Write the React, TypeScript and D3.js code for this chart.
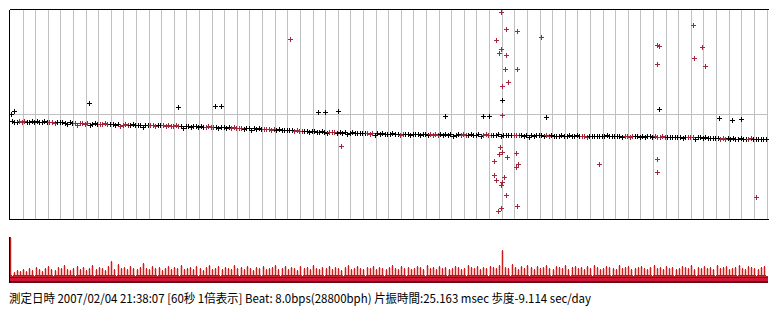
import React from "react";
import * as d3 from "d3";

const SECONDS = 60;

// main beat-error trace (deviation units, + = up), evenly spaced over 60 s
const lineDev = [
  -6.5, -8, -7.5, -7, -7.5, -7, -8, -7.5, -7, -7.5,
  -7, -7.5, -8, -7, -7.5, -8, -7.5, -8.5, -8, -7.5,
  -8, -8.5, -9.5, -8, -8.5, -9, -10.5, -9, -8.5, -9.5,
  -9, -10.5, -9.5, -9, -10, -9.5, -10, -9, -9.5, -10,
  -10, -11, -10, -12, -10.5, -10, -10.5, -11, -10, -10.5,
  -10.5, -11, -12.5, -10.5, -11, -10.5, -11, -11.5, -11, -10.5,
  -11, -11.5, -11, -12, -11.5, -11, -11.5, -12, -13.5, -11.5,
  -12, -12.5, -11.5, -12, -13, -12, -12.5, -13, -12, -12.5,
  -13, -12.5, -13.5, -13, -12.5, -14, -13, -13.5, -13, -14,
  -13.5, -14, -14.5, -13.5, -14, -15.5, -14, -14.5, -14, -15,
  -14.5, -15, -14.5, -15.5, -15, -16, -15, -15.5, -16, -15.5,
  -16, -15.5, -16.5, -16, -17, -16.5, -17, -16.5, -17.5, -17,
  -17, -17.5, -18, -17, -17.5, -19, -17.5, -18, -17.5, -18.5,
  -18, -18.5, -18, -19.5, -18.5, -18, -19, -18.5, -19, -18.5,
  -19, -18.5, -19.5, -19, -20.5, -19, -19.5, -19, -19.5, -20,
  -19.5, -19, -20, -19.5, -20.5, -19.5, -20, -19.5, -21, -20,
  -20, -19.5, -20.5, -20, -20, -21, -20, -20.5, -20, -20.5,
  -20, -20.5, -20, -20.5, -20, -21.5, -20.5, -20, -20.5, -20,
  -20.5, -21, -20, -20.5, -21, -20, -22, -20.5, -20, -20.5,
  -20.5, -21, -20.5, -20, -21.5, -20.5, -21, -20.5, -21, -20.5,
  -21, -20.5, -21, -21.5, -21, -22.5, -21, -21.5, -21, -20.5,
  -21, -21.5, -21, -21.5, -21, -21.5, -22, -21.5, -21, -21.5,
  -21.5, -21, -22, -21.5, -21, -21.5, -22, -21.5, -22.5, -21.5,
  -22, -21.5, -22, -21.5, -22, -21.5, -21, -22, -21.5, -22,
  -21.5, -22, -22.5, -21.5, -22, -22.5, -22, -21.5, -22, -22.5,
  -22, -22.5, -22, -21.5, -22.5, -22, -23, -22.5, -22, -23,
  -22.5, -23, -22.5, -23, -22.5, -23, -24, -23, -22.5, -23,
  -23, -24.5, -23, -22.5, -23.5, -23, -23.5, -24, -23.5, -24,
  -24, -24.5, -24, -25, -24, -24.5, -24, -25, -24.5, -24,
  -24.5, -25, -24.5, -24, -25, -24.5, -24.5, -25, -24.5, -25,
];

// run lengths of colours along the trace, alternating black / red, starting black
const colorRuns = [
  3, 3, 9, 3, 7, 6, 4, 4, 4, 4, 8, 3, 2, 7, 10, 4, 6, 5, 8, 5,
  7, 4, 10, 3, 12, 3, 10, 2, 10, 4, 8, 3, 6, 4, 8, 3, 10, 2, 12, 3,
  14, 4, 8, 5, 8, 3, 10, 3, 8, 2, 6,
];

// [second, deviation]
const blackOutliers: [number, number][] = [
  [0.08, 0], [0.26, 3.25], [6.21, 11], [13.26, 7], [16.25, 8.25], [16.72, 8.25],
  [24.41, 2.25], [24.97, 2.25], [26.0, 3.25], [34.5, -2], [37.51, -2], [37.99, -2],
  [39.02, 14.25], [42.51, -3], [51.46, 5.25], [56.22, -3.75], [57.25, -5.75], [57.96, -4.75],
];

const redOutliers: [number, number][] = [
  [22.19, 75.25], [26.23, -31.75],
  [38.94, 102], [39.34, 85.5], [40.21, 83], [38.54, 74], [38.94, 65], [38.73, 61.25],
  [39.34, 59], [42.11, 77], [39.26, 45], [40.21, 45], [39.49, 32.25], [39.02, 28],
  [39.02, -0.75], [38.86, -32.75], [39.02, -38], [38.78, -40], [39.41, -42.75],
  [40.13, -38.75], [38.37, -47], [40.29, -50], [40.13, -53], [38.37, -60.75],
  [39.18, -63], [38.54, -66], [39.02, -68], [38.94, -71], [39.34, -81], [40.21, -92],
  [38.94, -94], [38.7, -97], [46.71, -50], [51.3, 69.5], [51.46, 68.25], [51.3, 50],
  [54.16, 89], [54.87, 67], [54.24, 56], [55.11, 48], [51.3, -45], [51.3, -58],
  [59.15, -82.75],
];

// sound amplitude peaks, evenly spaced over 60 s
const barAmp = [
  40, 5, 7, 6, 8, 6, 9, 7, 10, 8, 6, 9, 11, 8, 7, 10, 9, 12, 8, 7,
  9, 11, 8, 10, 7, 9, 12, 8, 10, 9, 7, 11, 16, 8, 13, 9, 10, 8, 11, 9,
  8, 10, 14, 9, 8, 11, 9, 10, 7, 9, 11, 8, 10, 9, 12, 8, 9, 10, 8, 11,
  9, 7, 10, 12, 8, 9, 11, 8, 10, 9, 8, 12, 9, 10, 8, 11, 9, 7, 10, 9,
  11, 8, 9, 10, 12, 8, 9, 11, 8, 10, 9, 7, 11, 9, 10, 8, 12, 9, 8, 10,
  9, 11, 8, 10, 9, 7, 10, 12, 8, 9, 11, 9, 8, 10, 9, 11, 8, 10, 9, 8,
  10, 12, 9, 8, 11, 9, 10, 8, 9, 11, 10, 8, 12, 9, 10, 8, 11, 9, 10, 8,
  9, 11, 10, 8, 9, 12, 10, 9, 11, 8, 10, 9, 11, 10, 9, 12, 27, 10, 9, 13,
  10, 8, 11, 9, 12, 10, 8, 11, 9, 10, 12, 9, 8, 11, 10, 9, 12, 8, 10, 11,
  9, 10, 8, 11, 9, 12, 10, 8, 9, 11, 10, 9, 8, 12, 9, 10, 11, 8, 9, 10,
  11, 9, 8, 10, 12, 9, 10, 8, 11, 9, 10, 8, 9, 11, 10, 9, 12, 8, 10, 9,
  11, 9, 10, 8, 12, 9, 10, 11, 8, 9, 10, 12, 9, 8, 11, 10, 9, 8, 10, 11,
];

const caption =
  "測定日時 2007/02/04 21:38:07 [60秒 1倍表示] Beat: 8.0bps(28800bph) 片振時間:25.163 msec 歩度-9.114 sec/day";

const BLACK = "#000000";
const RED = "#a3263a";
const GRID = "#c0c0c0";

function Cross({ cx, cy, color }: { cx: number; cy: number; color: string }) {
  const px = Math.round(cx);
  const py = Math.round(cy);
  return (
    <g fill={color}>
      <rect x={px - 2} y={py} width={5} height={1} />
      <rect x={px} y={py - 2} width={1} height={5} />
    </g>
  );
}

export default function App() {
  const left = 9.5;
  const top = 9.5;
  const bottom = 219.5;
  const right = 767.5;

  const x = d3.scaleLinear().domain([0, SECONDS]).range([10.4, 767]);
  const y = d3.scaleLinear().domain([-105, 105]).range([219.25, 9.25]);
  const amp = d3.scaleLinear().domain([0, 40]).range([277, 237]);

  const colors: string[] = [];
  colorRuns.forEach((n, k) => {
    for (let j = 0; j < n; j++) colors.push(k % 2 === 0 ? BLACK : RED);
  });

  const gridSecs = d3.range(1, SECONDS + 1);
  const crisp = (v: number) => Math.round(v) + 0.5;

  return (
    <svg
      width={777}
      height={311}
      style={{ position: "absolute", left: 0, top: 0, background: "#fff" }}
      shapeRendering="crispEdges"
    >
      <rect x={0} y={0} width={777} height={311} fill="#fff" />
      {/* vertical grid */}
      {gridSecs.map((s) => (
        <line
          key={"g" + s}
          x1={crisp(x(s) - 0.5)}
          x2={crisp(x(s) - 0.5)}
          y1={top}
          y2={bottom}
          stroke={GRID}
          strokeWidth={1}
        />
      ))}
      {/* centre line */}
      <line x1={left} x2={right} y1={crisp(y(0) - 0.5)} y2={crisp(y(0) - 0.5)} stroke={GRID} />
      {/* frame */}
      <line x1={left} x2={769} y1={top} y2={top} stroke={BLACK} />
      <line x1={left} x2={769} y1={bottom} y2={bottom} stroke={BLACK} />
      <line x1={left} x2={left} y1={top} y2={bottom} stroke={BLACK} />

      {/* trace */}
      {lineDev.map((d, i) => (
        <Cross
          key={"p" + i}
          cx={x(((i + 0.5) * SECONDS) / lineDev.length)}
          cy={y(d)}
          color={colors[i] || BLACK}
        />
      ))}
      {blackOutliers.map(([s, d], i) => (
        <Cross key={"b" + i} cx={x(s)} cy={y(d)} color={BLACK} />
      ))}
      {redOutliers.map(([s, d], i) => (
        <Cross key={"r" + i} cx={x(s)} cy={y(d)} color={RED} />
      ))}

      {/* amplitude strip */}
      <g>
        {barAmp.map((a, i) => {
          const bx = Math.round(x((i * SECONDS) / barAmp.length));
          return (
            <g key={"a" + i}>
              <rect x={bx - 1} y={amp(a) + 1} width={3} height={amp(0) - amp(a) - 1} fill="#f6c4c4" />
              <rect x={bx} y={amp(a)} width={1} height={amp(0) - amp(a)} fill="#c81e1e" />
              <rect x={bx - 1} y={amp(0) - 2} width={3} height={2} fill="#b8141e" />
            </g>
          );
        })}
        <rect x={10} y={amp(0) - 1} width={758} height={1} fill="#c02a2a" />
        <rect x={10} y={277} width={758} height={1} fill="#7a1020" />
        <rect x={10} y={278} width={758} height={3} fill="#d0143a" />
        <rect x={10} y={281} width={758} height={2} fill="#6a0c18" />
        <line x1={left} x2={left} y1={237} y2={283} stroke={BLACK} />
      </g>

      <text
        x={9}
        y={303}
        fontFamily="'Noto Sans CJK JP', 'DejaVu Sans', sans-serif"
        fontSize={12}
        fill="#000"
        textLength={582}
        lengthAdjust="spacingAndGlyphs"
        shapeRendering="auto"
      >
        {caption}
      </text>
    </svg>
  );
}
